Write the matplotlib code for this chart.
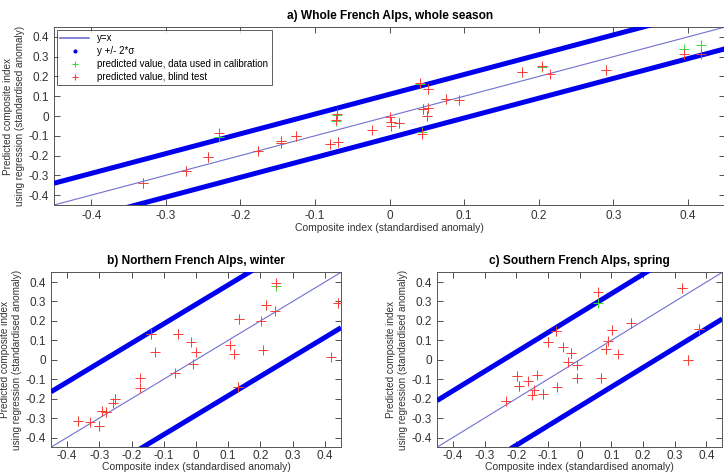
import matplotlib
matplotlib.use("Agg")
import matplotlib.pyplot as plt
import numpy as np
from matplotlib.lines import Line2D

plt.rcParams['font.family'] = ['Liberation Sans', 'DejaVu Sans']

# a) Whole French Alps, whole season
a_x = [-0.331, -0.273, -0.243, -0.229, -0.177, -0.145, -0.145, -0.125, -0.080, -0.069,
       -0.072, -0.070, -0.023, 0.000, 0.002, 0.002, 0.012, 0.041, 0.051, 0.045, 0.051,
       0.050, 0.043, 0.076, 0.093, 0.178, 0.205, 0.215, 0.290, 0.395, 0.418]
a_blind = [-0.337, -0.280, -0.209, -0.084, -0.175, -0.124, -0.134, -0.102, -0.141, -0.129,
           -0.022, 0.009, -0.073, -0.004, -0.050, -0.032, -0.033, 0.166, 0.135, 0.033, 0.043,
           0.000, -0.090, 0.087, 0.082, 0.224, 0.255, 0.212, 0.231, 0.312, 0.316]
a_calib = [-0.337, -0.280, -0.209, -0.107, -0.175, -0.124, -0.134, -0.102, -0.141, -0.129,
           -0.026, 0.004, np.nan, np.nan, np.nan, -0.030, -0.033, 0.163, 0.135, 0.033, 0.043,
           0.000, -0.080, 0.087, 0.082, 0.224, 0.248, np.nan, 0.231, 0.340, 0.357]
a_sigma = 0.055

# b) Northern French Alps, winter
b_x = [-0.365, -0.329, -0.301, -0.293, -0.280, -0.258, -0.252, -0.175, -0.173, -0.141,
       -0.127, -0.064, -0.056, -0.016, -0.009, 0.000, 0.105, 0.118, 0.131, 0.135,
       0.201, 0.207, 0.216, 0.247, 0.245, 0.419, 0.440]
b_blind = [-0.316, -0.318, -0.340, -0.265, -0.267, -0.223, -0.200, -0.145, -0.096, 0.135,
           0.038, -0.070, 0.135, 0.089, -0.021, 0.038, 0.075, 0.030, -0.138, 0.208,
           0.199, 0.050, 0.280, 0.394, 0.250, 0.016, 0.292]
b_calib = [-0.316, np.nan, -0.340, -0.265, -0.267, np.nan, -0.200, np.nan, np.nan, 0.135,
           np.nan, np.nan, 0.135, np.nan, np.nan, np.nan, np.nan, np.nan, -0.138, 0.208,
           np.nan, np.nan, 0.280, 0.378, np.nan, np.nan, 0.292]
b_sigma = 0.1425

# c) Southern French Alps, spring
c_x = [-0.233, -0.199, -0.191, -0.162, -0.151, -0.143, -0.133, -0.117, -0.100, -0.076,
       -0.071, -0.052, -0.028, -0.036, -0.009, -0.008, 0.057, 0.067, 0.083, 0.090,
       0.102, 0.122, 0.163, 0.322, 0.341, 0.378]
c_blind = [-0.211, -0.085, -0.134, -0.111, -0.180, -0.155, -0.077, -0.177, 0.092, 0.146,
           -0.138, 0.066, 0.037, -0.010, -0.026, -0.095, 0.347, -0.095, 0.053, 0.095,
           0.153, 0.032, 0.190, 0.369, -0.002, 0.157]
c_calib = [np.nan, -0.085, -0.134, np.nan, np.nan, np.nan, np.nan, -0.177, 0.092, 0.146,
           np.nan, np.nan, 0.037, np.nan, np.nan, -0.095, 0.293, -0.095, 0.053, np.nan,
           0.153, np.nan, 0.190, 0.369, -0.002, 0.157]
c_sigma = 0.12

ticks = [-0.4, -0.3, -0.2, -0.1, 0, 0.1, 0.2, 0.3, 0.4]
tick_labels = ['-0.4', '-0.3', '-0.2', '-0.1', '0', '0.1', '0.2', '0.3', '0.4']
lim = [-0.45, 0.45]


def draw_panel(ax, x, y_calib, y_blind, sigma, title, xpad=3.5):
    edges = np.array(lim)
    ax.plot(edges, edges, color='#7070d0', lw=0.8, zorder=2)
    ax.plot(edges, edges + 2 * sigma, color='#0000ee', lw=3.6, solid_capstyle='butt', zorder=3)
    ax.plot(edges, edges - 2 * sigma, color='#0000ee', lw=3.6, solid_capstyle='butt', zorder=3)
    ax.plot(x, y_calib, '+', color='#33dd33', ms=6.5, mew=0.7, zorder=4)
    ax.plot(x, y_blind, '+', color='#ff3c3c', ms=6.5, mew=0.7, zorder=5)
    ax.set_xlim(lim)
    ax.set_ylim(lim)
    ax.set_xticks(ticks)
    ax.set_xticklabels(tick_labels)
    ax.set_yticks(ticks)
    ax.set_yticklabels(tick_labels)
    ax.tick_params(direction='in', top=True, right=True, labelsize=8.5,
                   length=4, width=0.6, colors='#333333', labelcolor='#333333')
    ax.tick_params(axis='x', pad=xpad)
    for s in ax.spines.values():
        s.set_color('#555555')
        s.set_linewidth(0.7)
    ax.set_xlabel('Composite index (standardised anomaly)', fontsize=7.5, color='#333333',
                  labelpad=1 if xpad > 3 else 0)
    ax.set_ylabel('Predicted composite index\nusing regression (standardised anomaly)',
                  fontsize=7.2, color='#333333', labelpad=3)
    ax.set_title(title, fontsize=8.6, fontweight='bold', pad=6)


fig = plt.figure(figsize=(7.24, 4.74), dpi=100)
ax_a = fig.add_axes([0.0746, 0.5675, 0.927, 0.3755])
ax_b = fig.add_axes([0.0704, 0.0565, 0.4006, 0.369])
ax_c = fig.add_axes([0.6036, 0.0565, 0.394, 0.369])

draw_panel(ax_a, a_x, a_calib, a_blind, a_sigma, 'a) Whole French Alps, whole season')
draw_panel(ax_b, b_x, b_calib, b_blind, b_sigma, 'b) Northern French Alps, winter', xpad=2)
draw_panel(ax_c, c_x, c_calib, c_blind, c_sigma, 'c) Southern French Alps, spring', xpad=2)

handles = [
    Line2D([], [], color='#7070d0', lw=1.2),
    Line2D([], [], ls='none', marker='.', color='#0000ee', ms=4),
    Line2D([], [], ls='none', marker='+', color='#33dd33', ms=4, mew=0.8),
    Line2D([], [], ls='none', marker='+', color='#ff3c3c', ms=4, mew=0.8),
]
labels = ['y=x', 'y +/- 2*σ', 'predicted value, data used in calibration',
          'predicted value, blind test']
leg = ax_a.legend(handles, labels, loc='upper left', fontsize=7, frameon=True,
                  fancybox=False, handlelength=3.0, borderaxespad=0.3,
                  labelspacing=0.3, borderpad=0.35)
leg.get_frame().set_edgecolor('#333333')
leg.get_frame().set_linewidth(0.7)

fig.savefig('out.png', dpi=100)
